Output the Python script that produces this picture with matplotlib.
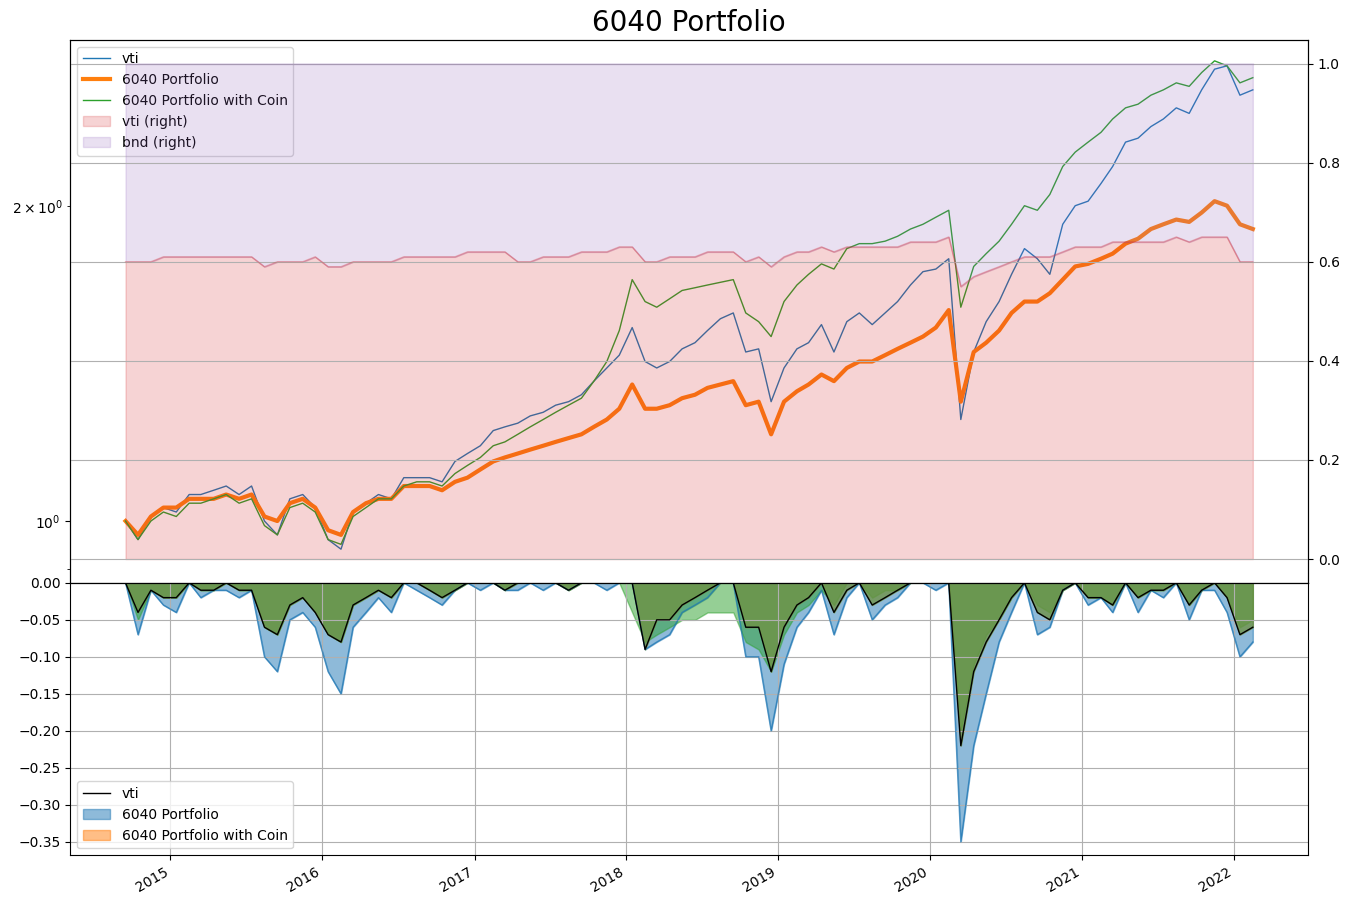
import matplotlib
matplotlib.use("Agg")
import matplotlib.pyplot as plt
import pandas as pd
import numpy as np

dates = pd.date_range("2014-09-01", periods=90, freq="MS") + pd.Timedelta(days=14)

vti = [1.00,0.96,1.01,1.03,
 1.02,1.06,1.06,1.07,1.08,1.06,1.08,1.00,0.97,1.05,1.06,1.03,
 0.96,0.94,1.02,1.04,1.06,1.05,1.10,1.10,1.10,1.09,1.14,1.16,
 1.18,1.22,1.23,1.24,1.26,1.27,1.29,1.30,1.32,1.36,1.40,1.44,
 1.53,1.42,1.40,1.42,1.46,1.48,1.52,1.56,1.58,1.45,1.46,1.30,
 1.40,1.46,1.48,1.54,1.45,1.55,1.58,1.54,1.58,1.62,1.68,1.73,
 1.74,1.78,1.25,1.45,1.55,1.62,1.72,1.82,1.78,1.72,1.92,2.00,
 2.02,2.10,2.18,2.30,2.32,2.38,2.42,2.48,2.45,2.58,2.70,2.72,
 2.55,2.58]
p6040 = [1.00,0.97,1.01,1.03,
 1.03,1.05,1.05,1.05,1.06,1.05,1.06,1.01,1.00,1.04,1.05,1.03,
 0.98,0.97,1.02,1.04,1.05,1.05,1.08,1.08,1.08,1.07,1.09,1.10,
 1.12,1.14,1.15,1.16,1.17,1.18,1.19,1.20,1.21,1.23,1.25,1.28,
 1.35,1.28,1.28,1.29,1.31,1.32,1.34,1.35,1.36,1.29,1.30,1.21,
 1.30,1.33,1.35,1.38,1.36,1.40,1.42,1.42,1.44,1.46,1.48,1.50,
 1.53,1.59,1.30,1.45,1.48,1.52,1.58,1.62,1.62,1.65,1.70,1.75,
 1.76,1.78,1.80,1.84,1.86,1.90,1.92,1.94,1.93,1.97,2.02,2.00,
 1.92,1.90]
coin = [1.00,0.96,1.00,1.02,
 1.01,1.04,1.04,1.05,1.06,1.04,1.05,0.99,0.97,1.03,1.04,1.02,
 0.96,0.95,1.01,1.03,1.05,1.05,1.08,1.09,1.09,1.08,1.11,1.13,
 1.15,1.18,1.19,1.21,1.23,1.25,1.27,1.29,1.31,1.36,1.42,1.52,
 1.70,1.62,1.60,1.63,1.66,1.67,1.68,1.69,1.70,1.58,1.55,1.50,
 1.62,1.68,1.72,1.76,1.74,1.82,1.84,1.84,1.85,1.87,1.90,1.92,
 1.95,1.98,1.60,1.75,1.80,1.85,1.92,2.00,1.98,2.05,2.18,2.25,
 2.30,2.35,2.42,2.48,2.50,2.55,2.58,2.62,2.60,2.68,2.75,2.72,
 2.62,2.65]
w_vti = [0.60,0.60,0.60,0.61,
 0.61,0.61,0.61,0.61,0.61,0.61,0.61,0.59,0.60,0.60,0.60,0.61,
 0.59,0.59,0.60,0.60,0.60,0.60,0.61,0.61,0.61,0.61,0.61,0.62,
 0.62,0.62,0.62,0.60,0.60,0.61,0.61,0.61,0.62,0.62,0.62,0.63,
 0.63,0.60,0.60,0.61,0.61,0.61,0.62,0.62,0.62,0.60,0.61,0.59,
 0.61,0.62,0.62,0.63,0.62,0.63,0.63,0.63,0.63,0.63,0.64,0.64,
 0.64,0.65,0.55,0.57,0.58,0.59,0.60,0.61,0.61,0.61,0.62,0.63,
 0.63,0.63,0.64,0.64,0.64,0.64,0.64,0.65,0.64,0.65,0.65,0.65,
 0.60,0.60]
dd_vti = [0,-0.07,-0.01,-0.03,
 -0.04,0,-0.02,-0.01,-0.01,-0.02,-0.01,-0.10,-0.12,-0.05,-0.04,-0.06,
 -0.12,-0.15,-0.06,-0.04,-0.02,-0.04,0,-0.01,-0.02,-0.03,-0.01,0,
 -0.01,0,-0.01,-0.01,0,-0.01,0,-0.01,0,0,-0.01,0,
 0,-0.09,-0.08,-0.07,-0.04,-0.03,-0.02,0,0,-0.10,-0.10,-0.20,
 -0.11,-0.06,-0.04,-0.01,-0.07,-0.02,0,-0.05,-0.03,-0.02,0,0,
 -0.01,0,-0.35,-0.22,-0.15,-0.08,-0.04,0,-0.07,-0.06,-0.01,0,
 -0.03,-0.02,-0.04,0,-0.04,-0.01,-0.02,0,-0.05,-0.01,-0.01,-0.04,
 -0.10,-0.08]
dd_6040 = [0,-0.04,-0.01,-0.02,
 -0.02,0,-0.01,-0.01,0,-0.01,-0.01,-0.06,-0.07,-0.03,-0.02,-0.04,
 -0.07,-0.08,-0.03,-0.02,-0.01,-0.02,0,0,-0.01,-0.02,-0.01,0,
 0,0,-0.01,0,0,0,0,-0.01,0,0,0,0,
 0,-0.09,-0.05,-0.05,-0.03,-0.02,-0.01,0,0,-0.06,-0.06,-0.12,
 -0.06,-0.03,-0.02,0,-0.04,-0.01,0,-0.03,-0.02,-0.01,0,0,
 0,0,-0.22,-0.12,-0.08,-0.05,-0.02,0,-0.04,-0.05,-0.01,0,
 -0.02,-0.02,-0.03,0,-0.02,-0.01,-0.01,0,-0.03,-0.01,0,-0.02,
 -0.07,-0.06]
dd_coin = [0,-0.05,-0.01,-0.02,
 -0.02,0,-0.01,-0.01,0,-0.01,-0.01,-0.06,-0.07,-0.03,-0.02,-0.04,
 -0.07,-0.08,-0.03,-0.02,-0.01,-0.02,0,0,-0.01,-0.02,-0.01,0,
 0,0,-0.01,0,0,0,0,-0.01,0,0,0,0,
 -0.04,-0.08,-0.07,-0.06,-0.05,-0.05,-0.04,-0.04,-0.04,-0.08,-0.09,-0.12,
 -0.07,-0.04,-0.03,-0.01,-0.03,0,0,-0.02,-0.01,-0.01,0,0,
 0,0,-0.20,-0.11,-0.07,-0.05,-0.02,0,-0.03,-0.04,-0.01,0,
 -0.02,-0.02,-0.03,0,-0.02,-0.01,-0.01,0,-0.03,-0.01,0,-0.02,
 -0.06,-0.05]

fig = plt.figure(figsize=(13.5, 9.05), dpi=100)
ax = fig.add_axes([0.052, 0.356, 0.917, 0.600])
axb = fig.add_axes([0.052, 0.055, 0.917, 0.301], sharex=ax)

l1, = ax.plot(dates, vti, color="C0", lw=1, label="vti")
l2, = ax.plot(dates, p6040, color="C1", lw=3, label="6040 Portfolio")
l3, = ax.plot(dates, coin, color="C2", lw=1, label="6040 Portfolio with Coin")
ax.set_yscale("log")
ax.set_ylim(0.873, 2.88)
ax.set_title("6040 Portfolio", fontsize=20)
plt.setp(ax.get_xticklabels(), visible=False)

ax2 = ax.twinx()
w = np.array(w_vti)
f1 = ax2.fill_between(dates, 0, w, color="C3", alpha=0.2, label="vti (right)")
ax2.plot(dates, w, color="C3", alpha=0.3, lw=1)
f2 = ax2.fill_between(dates, w, 1.0, color="C4", alpha=0.2, label="bnd (right)")
ax2.plot(dates, np.ones(len(w)), color="C4", alpha=0.3, lw=1)
ax2.set_ylim(-0.048, 1.048)
ax2.grid(True)
ax.legend(handles=[l1, l2, l3, f1, f2], loc="upper left")

fb = axb.fill_between(dates, 0, dd_vti, color="C0", alpha=0.5, label="6040 Portfolio")
axb.plot(dates, dd_vti, color="C0", alpha=0.7, lw=1)
axb.fill_between(dates, 0, dd_coin, color="C2", alpha=0.5)
axb.fill_between(dates, 0, dd_6040, color="#6f9040", alpha=0.75)
fo = axb.fill_between([], [], color="C1", alpha=0.5, label="6040 Portfolio with Coin")
lb, = axb.plot(dates, dd_6040, color="black", lw=1, label="vti")
axb.set_ylim(-0.368, 0.0)
axb.set_yticks(np.arange(-0.35, 0.001, 0.05))
axb.grid(True)
axb.legend(handles=[lb, fb, fo], loc="lower left")
ax.set_xlim(pd.Timestamp("2014-05-05"), pd.Timestamp("2022-06-28"))
for t in axb.get_xticklabels():
    t.set_rotation(30); t.set_ha("right")

fig.savefig("out.png", dpi=100)
